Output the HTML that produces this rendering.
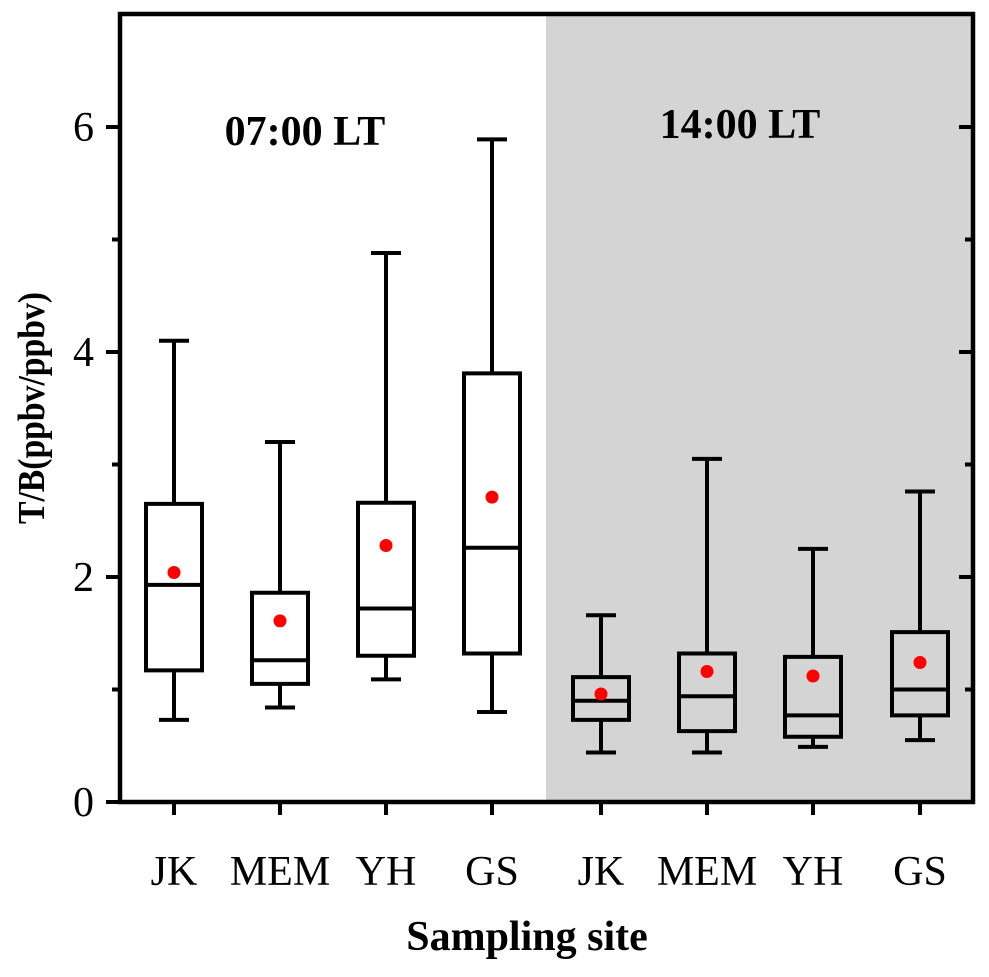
<!DOCTYPE html>
<html><head><meta charset="utf-8"><style>
body{margin:0;background:#fff}
svg text{font-family:"Liberation Serif",serif;fill:#000}
</style></head><body>
<svg id="chart" width="989" height="972">
<rect x="546" y="14" width="427" height="788" fill="#d4d4d4"/>
<g id="marks"></g>
<rect x="120" y="14" width="853" height="788" fill="none" stroke="#000" stroke-width="4.5"/>
<g id="axes"></g>
<text x="305" y="145" font-size="42" font-weight="bold" text-anchor="middle">07:00 LT</text>
<text x="740" y="138" font-size="42" font-weight="bold" text-anchor="middle">14:00 LT</text>
<text x="527" y="950" font-size="42" font-weight="bold" text-anchor="middle">Sampling site</text>
<text transform="translate(44,408) rotate(-90)" font-size="38" font-weight="bold" text-anchor="middle" textLength="232" lengthAdjust="spacingAndGlyphs">T/B(ppbv/ppbv)</text>
</svg>
<script>
const categories=["JK","MEM","YH","GS","JK","MEM","YH","GS"];
const whiskerMax=[4.10,3.20,4.88,5.89,1.66,3.05,2.25,2.76];
const q3=[2.65,1.86,2.66,3.81,1.11,1.32,1.29,1.51];
const median=[1.93,1.26,1.72,2.26,0.90,0.94,0.77,1.00];
const q1=[1.17,1.05,1.30,1.32,0.73,0.63,0.58,0.77];
const whiskerMin=[0.73,0.84,1.09,0.80,0.44,0.44,0.49,0.55];
const means=[2.04,1.61,2.28,2.71,0.96,1.16,1.12,1.24];
const yTicks=[0,2,4,6];
const yMinor=[1,3,5];
const NS="http://www.w3.org/2000/svg";
const y=v=>802-v*112.5;
const xc=[174,280,386,492,601,707,813,920];
const x=i=>xc[i];
const marks=document.getElementById('marks'),axes=document.getElementById('axes');
function mk(tag,attrs,parent,txt){const e=document.createElementNS(NS,tag);for(const k in attrs)e.setAttribute(k,attrs[k]);if(txt!=null)e.textContent=txt;parent.appendChild(e);return e;}
categories.forEach((c,i)=>{
 const cx=x(i),g=mk('g',{},marks);
 
 
 const s={stroke:'#000','stroke-width':4,fill:'none'};
 mk('line',{x1:cx,x2:cx,y1:y(whiskerMax[i]),y2:y(q3[i]),...s},g);
 mk('line',{x1:cx,x2:cx,y1:y(q1[i]),y2:y(whiskerMin[i]),...s},g);
 mk('line',{x1:cx-15,x2:cx+15,y1:y(whiskerMax[i]),y2:y(whiskerMax[i]),...s},g);
 mk('line',{x1:cx-15,x2:cx+15,y1:y(whiskerMin[i]),y2:y(whiskerMin[i]),...s},g);
 mk('rect',{x:cx-28,y:y(q3[i]),width:56,height:y(q1[i])-y(q3[i]),...s},g);
 mk('line',{x1:cx-28,x2:cx+28,y1:y(median[i]),y2:y(median[i]),...s},g);
 const m=mk('circle',{cx:cx,cy:y(means[i]),r:6.5,fill:'#f00'},g);
 
 
 mk('line',{x1:cx,x2:cx,y1:802,y2:815,stroke:'#000','stroke-width':4},axes);
 const t=mk('text',{x:cx,y:885,'font-size':42,'text-anchor':'middle'},axes,c);
 
 
});
yTicks.forEach(v=>{
 mk('line',{x1:106,x2:120,y1:y(v),y2:y(v),stroke:'#000','stroke-width':4},axes);
 mk('line',{x1:959,x2:973,y1:y(v),y2:y(v),stroke:'#000','stroke-width':4},axes);
 const t=mk('text',{x:94,y:y(v)+14,'font-size':42,'text-anchor':'end'},axes,String(v));
 
 
});
yMinor.forEach(v=>{
 mk('line',{x1:112,x2:120,y1:y(v),y2:y(v),stroke:'#000','stroke-width':4},axes);
 mk('line',{x1:965,x2:973,y1:y(v),y2:y(v),stroke:'#000','stroke-width':4},axes);
});
</script>
</body></html>
